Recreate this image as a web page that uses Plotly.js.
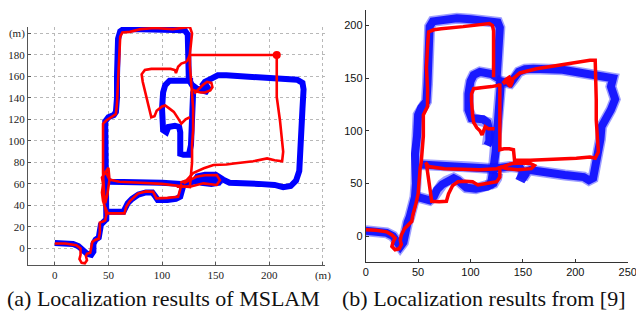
<!DOCTYPE html>
<html><head><meta charset="utf-8">
<script src="https://cdn.plot.ly/plotly-3.0.1.min.js"></script>
<style>html,body{margin:0;padding:0;background:#fff}#c{width:636px;height:314px}</style>
</head><body><div id="c"></div>
<script>
// ---- (a) MSLAM : blue (thick) path segments, [x, y] in metres
const mslamBlueMain = [[0,5],[10,5],[17,4],[22,2],[26,-2],[30,-5],[34,-6],[36,-3],[36,4],[38,8],[41,10],[42,15],[43,22],[46,25],[48,27],[48,33],[48,40],[47,50],[47,60],[47,70],[47,85],[47,100],[47,110],[47,118],[50,122],[55,124],[57,127],[58,140],[58,160],[58,180],[59,195],[61,202],[64,204],[80,204],[100,204],[115,204],[121,203],[124,199],[124,185],[124,170],[125,157],[128,152],[132,149],[137,147],[141,146],[143,149],[141,152],[137,151],[140,155],[146,158],[152,161],[160,161],[190,159],[215,158],[226,157],[231,154],[232,148],[231,130],[230,110],[229,90],[228,72],[225,63],[220,58],[213,57],[205,59],[190,60],[175,60],[163,61],[157,64],[154,66],[150,68.5],[140,68.5],[133,67],[131,64],[137,61],[146,60],[153,61],[155,64],[150,66],[140,64],[130,62],[124,61],[118,60],[100,61],[80,61],[60,62],[52,62],[48,64]];
const mslamBlueLower = [[48,34],[55,34],[64,34],[66,38],[68,42],[72,46],[78,50],[85,52],[91,52],[94,48],[96,45],[105,45],[113,46],[117,48],[119,53],[120,59]];
const mslamBlueInner = [[129,156],[115,156],[107,156],[103,152],[101,145],[100,130],[100,118],[101,110],[104,108],[106,113],[112,114],[116,113],[117,108],[117,98],[117,88],[120,87],[125,87],[127,96],[128,120],[129,145],[131,150]];
// ---- (a) MSLAM : red (thin) path segments
const mslamRedMain = [[0,4.5],[10,4.5],[20,3],[24,0],[24,-6],[23,-10],[25,-13.5],[28,-14],[30,-11],[29,-7],[30,-5],[33,-4],[34,1],[35,6],[38,8],[41,9],[42,15],[42,24],[45,25],[47,26],[48,31],[47,38],[45,44],[44,52],[45,60],[44,66],[48,72],[50,75],[51,64],[49,50],[47,42],[46,50],[45,70],[45,90],[45,105],[45,116],[48,119],[53,122],[57,125],[58,135],[59,160],[60,185],[61,197],[63,201],[70,201.5],[80,204],[93,205],[110,204],[120,205],[126,206],[128,200],[127,190],[126,181],[126,170],[127,158],[128,148],[129,130],[129,110],[128,96],[128,80],[127,65],[126,57],[117,58],[100,60],[80,61],[60,62],[51,64],[48,70]];
const mslamRedOuter = [[123,173.6],[126,180],[150,180],[180,180],[205,180],[207,179],[207,170],[207,160],[207,141],[210,119],[212,101],[213,90],[212,81],[205,82],[198,83.7],[185,81],[167,79],[160,78],[148,77.5],[139,74.5],[129,70],[123,63.5],[117,61]];
const mslamRedWiggle = [[123,173.6],[118,172],[115,169],[113,163],[112,166],[108,167],[100,167],[90,167],[84,166],[81,162],[82,155],[84,147],[87,135],[89,127],[90,122],[93,123],[95,128],[100,132],[103,133],[107,130],[111,127],[115,121],[118,116],[122,120],[126,122]];
const mslamRedLoop = [[128,148],[132,146],[136,145],[140,145],[145,147],[147,150],[146,154],[142,155],[138,152],[134,148],[130,144]];
const mslamRedLower = [[47,38],[49.5,32.5],[58,32.5],[65,32.5],[66.6,38.7],[70,44],[77.6,51],[85,53],[91.6,52.7],[94.7,46.5],[105,47],[115,48],[117,55],[118,60]];
const mslamRedLoop2 = [[113.7,57.3],[120,57.5],[126,57.3],[138.6,60.5],[151,59],[154,63.5],[151,68.2],[140,68],[132,66.6],[125,63],[120,60.5]];
const mslamRedDot = [[207,180]];
// ---- (b) results from [9] : blue path segments
const refBlueMain = [[0,5],[10,4.5],[20,3],[26,0],[29,-4],[31,-9],[33,-10],[36,-6],[37,0],[37.5,8],[40,13],[42,18],[44,24],[46,29],[47,37],[48,50],[48,66],[47,78],[49,95],[50,115],[53,122],[58,128],[59,145],[60,161],[60,180],[61,199],[64,204],[75,206],[87,207],[100,206],[120,205],[126,203],[128,198],[127,180],[126,160],[125,151],[120,154],[109,156],[103,153],[100,147],[98,135],[98,120],[101,112],[106,111],[112,111],[116,108],[118,100],[118,90],[116,86]];
const refBlueBox = [[125,148],[130,146],[134,146],[138,145],[142,150],[146,156],[152,158.5],[160,159],[188,158],[210,155],[226,153],[234,152],[236,150],[234,142],[238,130],[234,120],[228,110],[225,104],[224,92],[223,85],[221,75],[219,62],[217,55],[213,53],[208,56],[190,58],[173,60],[157,62.7],[150,60],[148,56],[150,55],[152,58],[147,65],[137.7,66],[122,64],[100,65.5],[80,66],[61,67.5],[52,68]];
const refBlueMid = [[129,146],[128,130],[127,110],[126,95],[124,80],[122,65],[120,52],[117,47]];
const refBlueLower = [[50,37],[56,35],[61,34],[65,37.5],[68,44],[73,49],[77,52],[84,55],[88,53],[92,48],[96,46],[105,45],[112,46],[116,47],[122,50],[125,55],[126,60]];
// ---- (b) results from [9] : red path segments
const refRedMain = [[0,6],[10,5.5],[20,4],[25,1],[28,-2],[26,-6],[25,-10],[28,-13],[32,-12],[34,-8],[33,-4],[34,1],[37,7],[41,11],[44,14],[45,20],[46,25],[48,31],[50,40],[51,55],[52,65],[53,70],[55,95],[55,115],[58,120],[59,123],[59,140],[58,160],[59,180],[60,194],[65,196],[72,197],[93,199],[110,201],[118,202],[121,200],[122,195],[122,170],[122,151]];
const refRedInner = [[128,143.5],[120,142],[110,141],[103,140],[101,135],[101,128],[102,115],[103,108],[106,103],[109,100],[111,96],[113,103],[114,104],[117,102],[123,102]];
const refRedBox = [[128,145],[128,130],[128,110],[128,95],[128,82],[132,83],[137,83],[141,82],[142,76],[142,72],[157,72],[172,72.5],[190,73],[201,74],[214,75],[219,74],[222,80],[221,95],[220,110],[220,129],[219,150],[219,167],[214,167],[190,163],[163,159],[147,155],[139,148],[131,145]];
const refRedMid = [[57,70],[60,66],[75,64],[109,63],[125,64],[131,66],[140,69],[150,69.5],[157,69],[161,67],[158,64],[145,63],[135,64],[128,66]];
const refRedLower = [[58,68],[59,60],[61,47],[63,33],[70,32.5],[77,33],[79,40],[83,48],[88,51.5],[95,52],[102,51.5],[107,48.5],[115,50],[125,51.6],[128,56],[128,66]];
const refRedScribble = [[131,145],[134,149],[137,151],[140,147],[138,142],[135,146]];
// ---- ticks and captions
const aTickX = [0,50,100,150,200,250];
const aTickXText = ['0','50','100','150','200','(m)'];
const aTickY = [0,20,40,60,80,100,120,140,160,180,200];
const aTickYText = ['0','20','40','60','80','100','120','140','160','180','(m)'];
const bTickX = [0,50,100,150,200,250];
const bTickY = [0,50,100,150,200];
const captionA = '(a) Localization results of MSLAM';
const captionB = '(b) Localization results from [9]';

function join(segs){
  const x=[],y=[];
  segs.forEach((s,i)=>{ if(i){x.push(null);y.push(null);} s.forEach(p=>{x.push(p[0]);y.push(p[1]);}); });
  return {x,y};
}
const BLUE='#0000ff', RED='#ff0000';
const aB=join([mslamBlueMain,mslamBlueLower,mslamBlueInner]);
const aR=join([mslamRedMain,mslamRedOuter,mslamRedWiggle,mslamRedLoop,mslamRedLower,mslamRedLoop2]);
const bB=join([refBlueMain,refBlueBox,refBlueMid,refBlueLower]);
const bR=join([refRedMain,refRedInner,refRedBox,refRedMid,refRedLower,refRedScribble]);
const dot=join([mslamRedDot]);

const traces=[
  {x:aB.x,y:aB.y,mode:'lines',line:{color:BLUE,width:6},xaxis:'x',yaxis:'y',hoverinfo:'skip'},
  {x:aR.x,y:aR.y,mode:'lines',line:{color:RED,width:2.6},xaxis:'x',yaxis:'y',hoverinfo:'skip'},
  {x:dot.x,y:dot.y,mode:'markers',marker:{color:RED,size:8},xaxis:'x',yaxis:'y',hoverinfo:'skip'},
  {x:bB.x,y:bB.y,mode:'lines',line:{color:'rgba(40,40,255,0.45)',width:11},xaxis:'x2',yaxis:'y2',hoverinfo:'skip'},
  {x:bB.x,y:bB.y,mode:'lines',line:{color:'#0a0aff',width:8},opacity:0.9,xaxis:'x2',yaxis:'y2',hoverinfo:'skip'},
  {x:bR.x,y:bR.y,mode:'lines',line:{color:RED,width:3.5},xaxis:'x2',yaxis:'y2',hoverinfo:'skip'}
];
const serif="'Liberation Serif', 'Times New Roman', serif";
const sans="'Liberation Sans', Arial, sans-serif";
const layout={
  width:636,height:314,margin:{l:0,r:0,t:0,b:0},showlegend:false,
  paper_bgcolor:'#fff',plot_bgcolor:'rgba(0,0,0,0)',
  xaxis:{domain:[28/636,325/636],range:[-25,252],tickvals:aTickX,ticktext:aTickXText,
    showgrid:true,gridcolor:'#b8b8b8',griddash:'dot',gridwidth:1,zeroline:false,
    showline:true,linecolor:'#555',linewidth:1,ticks:'inside',ticklen:3,tickcolor:'#555',
    tickfont:{family:serif,size:11,color:'#222'},anchor:'y',fixedrange:true,ticklabeloverflow:'allow'},
  yaxis:{domain:[49/314,287/314],range:[-15.5,206],tickvals:aTickY,ticktext:aTickYText,
    showgrid:true,gridcolor:'#b8b8b8',griddash:'dot',gridwidth:1,zeroline:false,
    showline:true,linecolor:'#555',linewidth:1,ticks:'inside',ticklen:3,tickcolor:'#555',
    tickfont:{family:serif,size:11,color:'#222'},anchor:'x',fixedrange:true},
  xaxis2:{domain:[365.7/636,627.7/636],range:[0,250],tickvals:bTickX,
    showgrid:false,zeroline:false,showline:true,linecolor:'#333',linewidth:1,
    ticks:'inside',ticklen:3,tickcolor:'#333',tickfont:{family:sans,size:11,color:'#111'},anchor:'y2',fixedrange:true,ticklabeloverflow:'allow'},
  yaxis2:{domain:[52.3/314,304/314],range:[-24.4,214.8],tickvals:bTickY,
    showgrid:false,zeroline:false,showline:true,linecolor:'#333',linewidth:1,
    ticks:'inside',ticklen:3,tickcolor:'#333',tickfont:{family:sans,size:11,color:'#111'},anchor:'x2',fixedrange:true},
  annotations:[
    {text:captionA,xref:'paper',yref:'paper',x:163/636,y:(314-298)/314,xanchor:'center',yanchor:'middle',showarrow:false,font:{family:serif,size:22,color:'#111'}},
    {text:captionB,xref:'paper',yref:'paper',x:483/636,y:(314-298)/314,xanchor:'center',yanchor:'middle',showarrow:false,font:{family:serif,size:22,color:'#111'}}
  ]
};
Plotly.newPlot('c',traces,layout,{staticPlot:true,displayModeBar:false});
</script>
</body></html>
